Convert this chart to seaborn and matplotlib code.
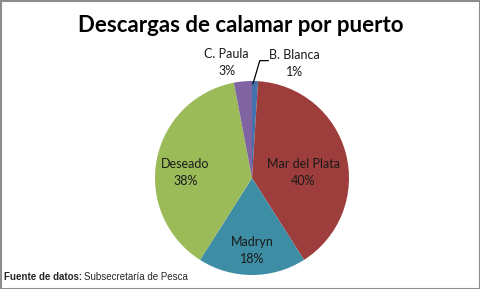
import numpy as np
import matplotlib
matplotlib.use("Agg")
import matplotlib.pyplot as plt
import seaborn as sns
from matplotlib.patches import Rectangle

sns.set_theme(style="white")
plt.rcParams['font.family'] = ['Lato', 'DejaVu Sans']

# Data
ports = ["B. Blanca", "Mar del Plata", "Madryn", "Deseado", "C. Paula"]
shares = [1, 40, 18, 38, 3]
colors = ["#4472AE", "#9E3E3C", "#3D8DA5", "#9BBB59", "#8064A2"]

title = "Descargas de calamar por puerto"
source_bold = "Fuente de datos:"
source_text = "Subsecretaría de Pesca"

W, H = 481, 289
fig = plt.figure(figsize=(W / 100, H / 100), dpi=100)
fig.patch.set_facecolor("white")

# pie axes: center (252,178), radius 97 px
cx, cy, r = 252, 178, 97
ax = fig.add_axes([(cx - r) / W, (H - cy - r) / H, 2 * r / W, 2 * r / H])
wedges, _ = ax.pie(shares, colors=colors, startangle=90, counterclock=False,
                   wedgeprops=dict(linewidth=0))
ax.set_xlim(-1, 1)
ax.set_ylim(-1, 1)
ax.set_aspect("equal")
ax.axis("off")

lbl_kw = dict(ha="center", va="center", fontsize=9, color="#1a1a1a",
              linespacing=1.5, clip_on=False)

# inner labels: (distance factor, angle tweak deg)
inner = {1: (0.53, -8), 2: (0.75, 0), 3: (0.69, 6)}
for i, w in enumerate(wedges):
    if i in inner:
        d, tw = inner[i]
        ang = np.deg2rad((w.theta1 + w.theta2) / 2 + tw)
        ax.text(d * np.cos(ang), d * np.sin(ang),
                f"{ports[i]}\n{shares[i]}%", **lbl_kw)

# outside labels
ax.text(-0.26, 1.19, f"{ports[4]}\n{shares[4]}%", **lbl_kw)
ax.text(0.44, 1.18, f"{ports[0]}\n{shares[0]}%", **lbl_kw)
# leader line for B. Blanca
ax.plot([0.01, 0.08, 0.17], [0.97, 1.21, 1.21], color="black", lw=0.9,
        clip_on=False)

fig.text(0.5, 1 - 26 / H, title, ha="center", va="center", fontsize=16,
         fontweight="bold", color="black")

t1 = fig.text(4 / W, 1 - 277 / H, source_bold, ha="left", va="center",
              fontsize=7, fontweight="bold", family=["Liberation Sans"])
fig.canvas.draw()
bb = t1.get_window_extent()
fig.text((bb.x1 + 2) / W, 1 - 277 / H, source_text, ha="left", va="center",
         fontsize=7, family=["Liberation Sans"])

fig.patches.append(Rectangle((0.5 / W, 0.5 / H), 1 - 1.5 / W, 1 - 1.5 / H,
                             transform=fig.transFigure, fill=False,
                             edgecolor="#8c8c8c", linewidth=1.5))

fig.savefig("out.png", dpi=100, facecolor="white")
